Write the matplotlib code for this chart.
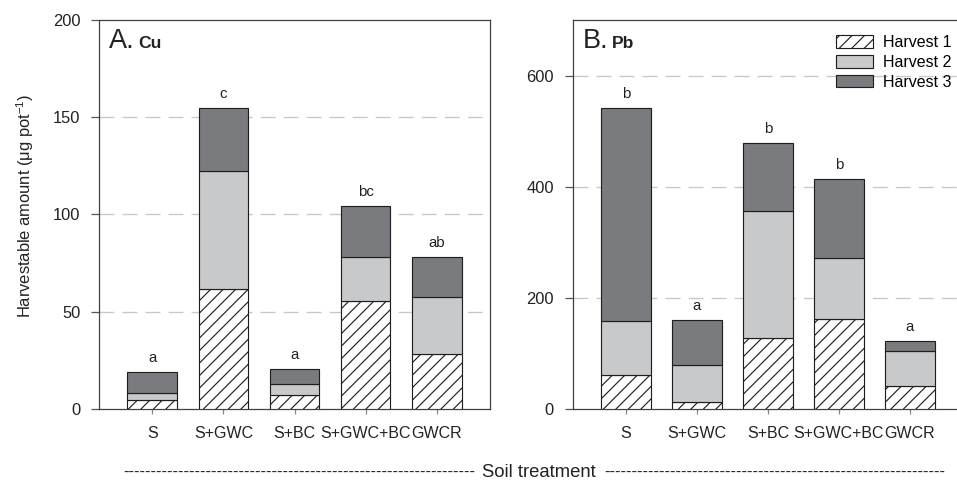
import numpy as np
import matplotlib
matplotlib.use("Agg")
import matplotlib.pyplot as plt
from matplotlib.patches import Patch

plt.rcParams['font.family'] = ['Liberation Sans', 'DejaVu Sans']
plt.rcParams['mathtext.default'] = 'regular'
plt.rcParams['hatch.linewidth'] = 0.55

# treatments and harvest amounts (ug per pot)
treatments = ["S", "S+GWC", "S+BC", "S+GWC+BC", "GWCR"]

cu_h1 = [4.4, 61.5, 7.0, 55.4, 28.4]
cu_h2 = [3.6, 60.8, 6.0, 22.7, 29.2]
cu_h3 = [11.2, 32.7, 7.4, 26.3, 20.7]
cu_letters = ["a", "c", "a", "bc", "ab"]

pb_h1 = [62, 12, 128, 162, 41]
pb_h2 = [96, 68, 229, 110, 63]
pb_h3 = [384, 81, 121, 141, 18]
pb_letters = ["b", "a", "b", "b", "a"]

series_labels = ["Harvest 1", "Harvest 2", "Harvest 3"]
light = "#c8c9cb"
dark = "#7a7b7e"
edge = "#1e1e1e"
spine_col = "#404040"
hatch = "////"

W, H = 957, 483
fig = plt.figure(figsize=(W / 150, H / 150), dpi=150)

def px(x0, y0, w, h):
    return [x0 / W, 1 - (y0 + h) / H, w / W, h / H]

ax_a = fig.add_axes(px(99, 20, 391, 389))
ax_b = fig.add_axes(px(572.7, 20, 390.5, 389))

def draw_panel(ax, h1, h2, h3, letters, ymax, yticks, tag, elem):
    x = np.arange(len(treatments))
    h1 = np.array(h1, float)
    h2 = np.array(h2, float)
    h3 = np.array(h3, float)
    ax.bar(x, h1, 0.7, color="white", edgecolor=edge, hatch=hatch, linewidth=0.55, zorder=3)
    ax.bar(x, h2, 0.7, bottom=h1, color=light, edgecolor=edge, linewidth=0.55, zorder=3)
    tot = h1 + h2 + h3
    ax.bar(x, h3, 0.7, bottom=h1 + h2, color=dark, edgecolor=edge, linewidth=0.55, zorder=3)
    for xi, t, s in zip(x, tot, letters):
        ax.annotate(s, (xi, t), xytext=(0, 4.8), textcoords="offset points",
                    ha="center", va="baseline", fontsize=7.2, color="#222222")
    ax.set_xlim(-0.75, 4.75)
    ax.set_ylim(0, ymax)
    ax.set_yticks(yticks)
    ax.set_xticks(x)
    ax.set_xticklabels(treatments)
    for g in yticks[1:]:
        if g < ymax:
            ax.axhline(g, color="#c8c8c8", linewidth=0.65, dashes=(11, 6), zorder=1)
    for sp in ax.spines.values():
        sp.set_color(spine_col)
        sp.set_linewidth(0.6)
    ax.tick_params(axis="y", direction="out", length=4, width=0.6, color="#555555",
                   pad=5, labelsize=7.9, labelcolor="#222222")
    ax.tick_params(axis="x", direction="out", length=2.5, width=0.6, color="#888888",
                   pad=5.5, labelsize=7.7, labelcolor="#222222")
    ax.text(0.025, 0.928, tag, transform=ax.transAxes, fontsize=13,
            ha="left", va="baseline", color="#222222")
    ax.text(0.028 + 0.072, 0.928, elem, transform=ax.transAxes, fontsize=8.4,
            fontweight="bold", ha="left", va="baseline", color="#222222")

draw_panel(ax_a, cu_h1, cu_h2, cu_h3, cu_letters, 200, [0, 50, 100, 150, 200], "A.", "Cu")
draw_panel(ax_b, pb_h1, pb_h2, pb_h3, pb_letters, 700, [0, 200, 400, 600], "B.", "Pb")

handles = [Patch(facecolor="white", edgecolor=edge, hatch=hatch, linewidth=0.55),
           Patch(facecolor=light, edgecolor=edge, linewidth=0.55),
           Patch(facecolor=dark, edgecolor=edge, linewidth=0.55)]
ax_b.legend(handles, series_labels, loc="upper left",
            bbox_to_anchor=(836 / W, 1 - 35 / H), bbox_transform=fig.transFigure,
            frameon=False, fontsize=7.7, handlelength=2.3, handleheight=0.85,
            handletextpad=0.6, labelspacing=0.3, borderpad=0, borderaxespad=0)

fig.text(25 / W, 1 - 206 / H, "Harvestable amount (μg pot$^{-1}$)", rotation=90,
         ha="center", va="center", fontsize=7.9, color="#222222")

# shared x label flanked by runs of hyphens
y_lab = 1 - 472 / H
fig.text(123 / W, y_lab, "-" * 64, ha="left", va="center", fontsize=8.0, color="#222222")
fig.text(539 / W, y_lab, "Soil treatment", ha="center", va="center", fontsize=8.9,
         color="#222222")
fig.text(945 / W, y_lab, "-" * 62, ha="right", va="center", fontsize=8.0, color="#222222")

fig.savefig("out.png", dpi=150)
